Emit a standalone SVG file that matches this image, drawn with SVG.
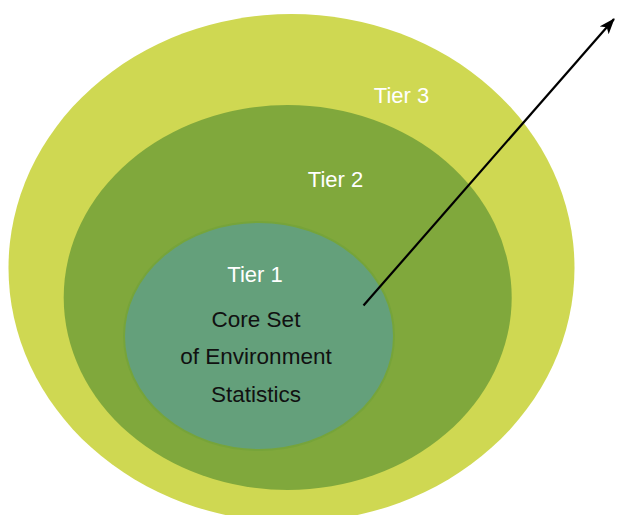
<svg xmlns="http://www.w3.org/2000/svg" width="617" height="515" viewBox="0 0 617 515">
  <style>
    .tier { font-family: "Liberation Sans", Arial, sans-serif; font-size: 22px; fill: #ffffff; text-anchor: middle; }
    .core { font-family: "Liberation Sans", Arial, sans-serif; font-size: 22.5px; fill: #111111; text-anchor: middle; }
    .arrow { fill: none; stroke: #000000; stroke-width: 2.2; }
  </style>
  <defs>
    <marker id="head" viewBox="0 0 16 12" refX="15" refY="6" markerWidth="16" markerHeight="12" markerUnits="userSpaceOnUse" orient="auto">
      <path d="M0,0 L16,6 L0,12 L4,6 z" fill="#000000"/>
    </marker>
  </defs>
  <rect width="617" height="515" fill="#ffffff"/>

  <g id="tier3">
    <ellipse cx="291.5" cy="268" rx="283" ry="254" fill="#cfd852"/>
    <text class="tier" x="401.5" y="103">Tier 3</text>
  </g>

  <g id="tier2">
    <ellipse cx="287.7" cy="297.5" rx="224" ry="192.5" fill="#80a83c"/>
    <text class="tier" x="335.5" y="187">Tier 2</text>
  </g>

  <g id="tier1">
    <ellipse cx="259" cy="336" rx="135" ry="114" fill="#64a07b" stroke="#76a43a" stroke-width="2"/>
    <text class="tier" x="255" y="281.5">Tier 1</text>
    <text class="core" x="256" y="326.7">Core Set</text>
    <text class="core" x="256" y="364.3">of Environment</text>
    <text class="core" x="256" y="401.7">Statistics</text>
  </g>

  <g id="connectors">
    <line class="arrow" x1="363.5" y1="305.5" x2="614" y2="19" marker-end="url(#head)"/>
  </g>
</svg>
